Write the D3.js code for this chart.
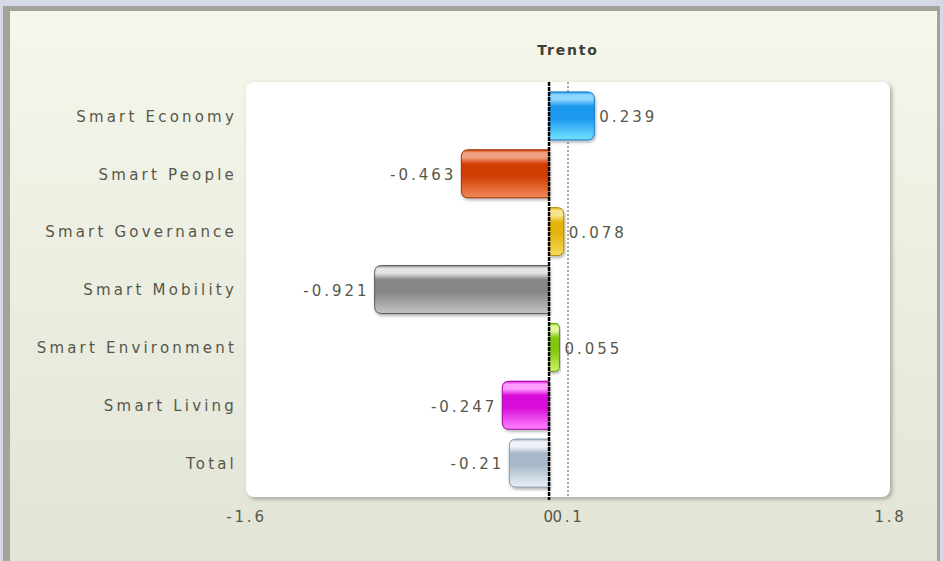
<!DOCTYPE html>
<html>
<head>
<meta charset="utf-8">
<script src="https://cdn.jsdelivr.net/npm/d3@7"></script>
<style>
  body { margin: 0; background: #d5d9e5; }
  svg { display: block; }
  text { font-family: "DejaVu Sans", Verdana, sans-serif; fill: #56574a; }
</style>
</head>
<body>
<svg id="chart" width="943" height="561"></svg>
<script>
var categories = ["Smart Economy", "Smart People", "Smart Governance", "Smart Mobility",
                  "Smart Environment", "Smart Living", "Total"]
var values = [0.239, -0.463, 0.078, -0.921, 0.055, -0.247, -0.21]
var tickValues = [-1.6, 0, 0.1, 1.8]
var title = "Trento"

// top, base, bottom, border
var palette = [
    ["#8fd6ff", "#1a98ee", "#74e2ff", "#1479c8"],
    ["#f2a080", "#cf3d02", "#f38a5a", "#9c2e00"],
    ["#f8e490", "#e4b410", "#f4dc5a", "#b08a00"],
    ["#e4e4e4", "#868686", "#c4c4c4", "#5c5c5c"],
    ["#e0f8a0", "#7fc810", "#cdf26a", "#5e9a00"],
    ["#ff9cff", "#d90cd9", "#ff84ff", "#a000a0"],
    ["#eef2f6", "#a9b8c8", "#eaf2fa", "#8797a8"]
]

var svg = d3.select("#chart")
var W = 943, H = 561

// frame + background
var defs = svg.append("defs")
var bg = defs.append("linearGradient").attr("id", "bg").attr("x1", 0).attr("y1", 0).attr("x2", 0).attr("y2", 1)
bg.append("stop").attr("offset", "0%").attr("stop-color", "#f5f7ec")
bg.append("stop").attr("offset", "100%").attr("stop-color", "#e2e4d6")

var shadow = defs.append("filter").attr("id", "shadow").attr("x", "-5%").attr("y", "-5%").attr("width", "110%").attr("height", "110%")
shadow.append("feDropShadow").attr("dx", 2).attr("dy", 2).attr("stdDeviation", 2)
    .attr("flood-color", "#6a6a60").attr("flood-opacity", 0.55)

var barShadow = defs.append("filter").attr("id", "barShadow").attr("x", "-10%").attr("y", "-10%").attr("width", "120%").attr("height", "130%")
barShadow.append("feDropShadow").attr("dx", 1).attr("dy", 2).attr("stdDeviation", 1.5)
    .attr("flood-color", "#000").attr("flood-opacity", 0.3)

svg.append("rect").attr("x", 3).attr("y", 6).attr("width", 937).attr("height", H - 6).attr("fill", "#a3a39c")
svg.append("rect").attr("x", 10).attr("y", 11).attr("width", 927).attr("height", H - 11).attr("fill", "url(#bg)")

var plotLeft = 246, plotRight = 890, plotTop = 82, plotBottom = 497

var x = d3.scaleLinear().domain([-1.6, 1.8]).range([plotLeft, plotRight])
var y = d3.scaleBand().domain(categories).range([plotTop + 5, plotBottom - 5]).paddingInner(0.17).paddingOuter(0.085)

// plot area
svg.append("rect")
    .attr("x", plotLeft).attr("y", plotTop)
    .attr("width", plotRight - plotLeft).attr("height", plotBottom - plotTop)
    .attr("rx", 8)
    .attr("fill", "#fff")
    .attr("filter", "url(#shadow)")

// title
svg.append("text")
    .attr("x", (plotLeft + plotRight) / 2).attr("y", 55)
    .attr("text-anchor", "middle")
    .style("font-size", "14px").style("font-weight", "bold")
    .style("letter-spacing", "1.8px")
    .style("fill", "#3f4034")
    .text(title)

// reference line at 0.1
svg.append("line")
    .attr("x1", x(0.1)).attr("x2", x(0.1))
    .attr("y1", plotTop).attr("y2", plotBottom)
    .attr("stroke", "#a8a8a8").attr("stroke-width", 2)
    .attr("stroke-dasharray", "2,2")

// gradients
palette.forEach(function(c, i) {
    var g = defs.append("linearGradient").attr("id", "bar" + i)
        .attr("x1", 0).attr("y1", 0).attr("x2", 0).attr("y2", 1)
    g.append("stop").attr("offset", "0%").attr("stop-color", c[1])
    g.append("stop").attr("offset", "6%").attr("stop-color", c[0])
    g.append("stop").attr("offset", "16%").attr("stop-color", c[0])
    g.append("stop").attr("offset", "30%").attr("stop-color", c[1])
    g.append("stop").attr("offset", "55%").attr("stop-color", c[1])
    g.append("stop").attr("offset", "100%").attr("stop-color", c[2])
})

function barPath(v, yy, h) {
    var x0 = x(0), x1 = x(v)
    var r = Math.min(7, Math.abs(x1 - x0) / 2)
    var s = v >= 0 ? 1 : -1
    var p = d3.path()
    p.moveTo(x0, yy)
    p.lineTo(x1 - s * r, yy)
    p.quadraticCurveTo(x1, yy, x1, yy + r)
    p.lineTo(x1, yy + h - r)
    p.quadraticCurveTo(x1, yy + h, x1 - s * r, yy + h)
    p.lineTo(x0, yy + h)
    p.closePath()
    return p.toString()
}

var bars = svg.append("g")
bars.selectAll("path")
    .data(values)
    .join("path")
    .attr("d", function(d, i) { return barPath(d, y(categories[i]), y.bandwidth()) })
    .attr("fill", function(d, i) { return "url(#bar" + i + ")" })
    .attr("stroke", function(d, i) { return palette[i][3] })
    .attr("stroke-width", 1)
    .attr("filter", "url(#barShadow)")

// value labels
svg.append("g").selectAll("text")
    .data(values)
    .join("text")
    .attr("x", function(d) { return d >= 0 ? x(d) + 5 : x(d) - 5 })
    .attr("y", function(d, i) { return y(categories[i]) + y.bandwidth() / 2 + 1 })
    .attr("dy", "0.36em")
    .attr("text-anchor", function(d) { return d >= 0 ? "start" : "end" })
    .style("font-size", "15px").style("letter-spacing", "3px")
    .text(function(d) { return String(d) })

// zero line
svg.append("line")
    .attr("x1", x(0)).attr("x2", x(0))
    .attr("y1", plotTop).attr("y2", plotBottom + 3)
    .attr("stroke", "#000").attr("stroke-width", 2.5)
    .attr("stroke-dasharray", "4,1")

// category axis
var yAxis = svg.append("g")
    .attr("transform", "translate(" + (plotLeft - 9) + ",1)")
    .call(d3.axisLeft(y).tickSize(0).tickPadding(0))
yAxis.select(".domain").remove()
yAxis.selectAll("text")
    .style("font-size", "15px").style("letter-spacing", "3.2px")
    .style("font-family", "'DejaVu Sans', Verdana, sans-serif")
    .style("fill", "#56574a")

// value axis
var xAxis = svg.append("g")
    .attr("transform", "translate(0," + (plotBottom + 12) + ")")
    .call(d3.axisBottom(x).tickValues(tickValues).tickSize(0).tickPadding(2)
        .tickFormat(function(d) { return String(d) }))
xAxis.select(".domain").remove()
xAxis.selectAll("text")
    .style("font-size", "15px").style("letter-spacing", "2.8px")
    .style("font-family", "'DejaVu Sans', Verdana, sans-serif")
    .style("fill", "#56574a")
</script>
</body>
</html>
